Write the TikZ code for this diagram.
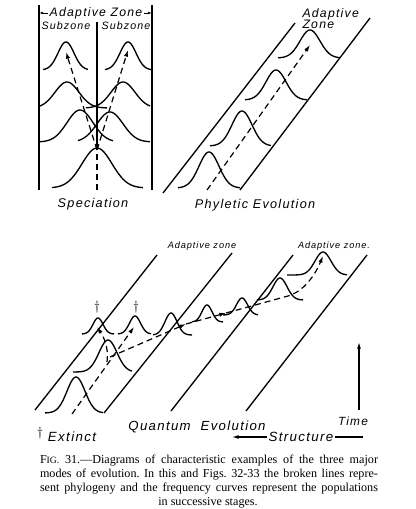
\documentclass[tikz,border=0pt]{standalone}
\usepackage{fontspec}
\setmainfont{Liberation Serif}
\newfontfamily\hand[LetterSpace=10]{Liberation Sans}
\usetikzlibrary{arrows.meta}

\tikzset{every picture/.style={line width=0.75pt}}
\tikzset{
  zone/.style={line width=1pt},
  curve/.style={line width=1pt,smooth},
  phylo/.style={line width=0.9pt,dash pattern={on 4.5pt off 3pt}},
  tip/.style={-{Latex[length=5pt,width=3.2pt]}},
  lbl/.style={inner sep=0.75pt,font=\hand\itshape\fontsize{#1}{#1}\selectfont},
  lbl/.default=9.5,
  capline/.style={inner sep=0pt,font=\fontsize{9.1}{10}\selectfont\frenchspacing},
}
% frequency curve: centre, base, height, spread, from, to
\newcommand{\bell}[6]{\draw[curve,domain=#5:#6,samples=50] plot (\x,{#2-#3*exp(-0.5*((\x-#1)/#4)^2)});}

\begin{document}
\begin{tikzpicture}[x=0.75pt,y=0.75pt,yscale=-1,xscale=1]
\useasboundingbox (0,0) rectangle (416,509);

%%% Speciation
%Straight Lines
\draw [zone] (39,5) coordinate (sl) -- (39,190) ;
\draw [zone] (152,5) coordinate (sr) -- (152,190) ;
\draw [zone] (97,22) -- (97,150) ;
%Shape: Curves
\bell{97}{188}{40}{15}{52}{143}
\bell{80}{142}{32}{13}{40}{113}
\bell{110}{142}{30}{13}{78}{150}
\bell{67}{108}{26}{12}{40}{107}
\bell{123}{108}{26}{12}{86}{150}
\bell{66}{70}{28}{8}{43}{88}
\bell{128}{70}{28}{8}{105}{152}
%Dashed Lines
\coordinate (sroot) at (97,190);
\coordinate (sfork) at (97,150);
\coordinate (sleft) at (66,52);
\coordinate (sright) at (128,50);
\draw [phylo] (sroot) -- (sfork) ;
\draw [phylo,tip] (sfork) -- (sleft) ;
\draw [phylo,tip] (sfork) -- (sright) ;
% Text Node
\node (zonetop) [lbl=9.2] at (96,13) {Adaptive Zone};
\draw [-{Latex[length=3pt,width=2pt]},line width=0.6pt] (zonetop.west) -- (sl |- zonetop) ;
\draw [-{Latex[length=3pt,width=2pt]},line width=0.6pt] (zonetop.east) -- (sr |- zonetop) ;
\node (subl) [lbl=8] at (66,26) {Subzone};
\node (subr) [lbl=8] at (126,26) {Subzone};
\node (spec) [lbl] at (93,204) {Speciation};

%%% Phyletic evolution
%Straight Lines
\draw [zone] (163,193) -- (295,23) ;
\draw [zone] (240,190) -- (370,18) ;
%Shape: Curves
\bell{209}{188}{36}{10}{178}{240}
\bell{242}{146}{35}{10}{210}{271}
\bell{276}{100}{30}{10}{245}{307}
\bell{310}{58}{28}{10}{278}{340}
%Dashed Lines
\coordinate (proot) at (207,190);
\coordinate (ptop) at (310,45);
\draw [phylo,tip] (proot) -- (ptop) ;
% Text Node
\node (pzone) [lbl=9.2,anchor=west,align=left] at (301,19) {Adaptive\\[-1pt]Zone};
\node (phyl) [lbl] at (255,205) {Phyletic Evolution};

%%% Quantum evolution
%Straight Lines
\draw [zone] (35,410) -- (157,255) ;
\draw [zone] (104,413) -- (232,253) ;
\draw [zone] (171,411) -- (293,255) ;
\draw [zone] (246,411) -- (367,255) ;
%Shape: Curves
\bell{76}{413}{36}{9}{45}{103}
\bell{108}{372}{32}{9}{73}{132}
\bell{98}{334}{16}{5}{82}{114}
\bell{135}{334}{18}{5.5}{118}{151}
\bell{171}{335}{22}{6}{153}{192}
\bell{207}{322}{17}{5}{192}{223}
\bell{242}{315}{17}{5.5}{223}{258}
\bell{280}{300}{22}{7}{257}{303}
\bell{323}{275}{23}{8}{287}{347}
%Dashed Lines
\coordinate (qroot) at (72,414);
\coordinate (qfork) at (107,362);
\coordinate (qext1) at (97,327);
\coordinate (qext2) at (134,327);
\coordinate (qa) at (110,357);
\coordinate (qb) at (186,324);
\coordinate (qc) at (226,313);
\coordinate (qd) at (288,296);
\coordinate (qtop) at (323,256);
\draw [phylo,tip] (qroot) -- (qext2) ;
\draw [phylo,tip] (qfork) .. controls (109,346) and (103,336) .. (qext1) ;
\draw [phylo,tip] (qa) -- (qb) ;
\draw [phylo,tip] (qb) -- (qc) ;
\draw [phylo,tip] (qc) -- (qd) .. controls (305,291) and (316,273) .. (qtop) ;
% Text Node
\node (dag1) [inner sep=0pt] at (97,307) {$\dagger$};
\node (dag2) [inner sep=0pt] at (136,307) {$\dagger$};
\node (qzone1) [lbl=6.9] at (202,246) {Adaptive zone};
\node (qzone2) [lbl=6.9] at (334,246) {Adaptive zone.};
\node (quant) [lbl=9.9] at (197,427) {Quantum\ \ Evolution};

%%% Time and structure
\coordinate (tlow) at (359,410);
\coordinate (thigh) at (359,342);
\draw [line width=0.9pt,-{Latex[length=5pt,width=3pt]}] (tlow) -- (thigh) ;
\node (time) [lbl=8.9] at (353,421) {Time};
\node (struct) [lbl=10] at (301,437) {Structure};
\coordinate (sleftend) at (232,437);
\coordinate (srightend) at (363,437);
\draw [line width=0.8pt,-{Latex[length=5pt,width=3pt]}] (struct.west) -- (sleftend) ;
\draw [line width=0.8pt] (struct.east) -- (srightend) ;

%%% Legend
\node (legdag) [inner sep=0pt] at (40,433) {$\dagger$};
\node (legext) [lbl=10] at (72,437) {Extinct};

%%% Caption
\node (cap1) [capline] at (209,461) {\makebox[253.5pt][s]{F{\fontsize{7.2}{8}\selectfont IG.} 31.—Diagrams of characteristic examples of the three major}};
\node (cap2) [capline] at (209,475) {\makebox[253.5pt][s]{modes of evolution. In this and Figs. 32-33 the broken lines repre-}};
\node (cap3) [capline] at (209,489) {\makebox[253.5pt][s]{sent phylogeny and the frequency curves represent the populations}};
\node (cap4) [capline] at (208,503) {in successive stages.};

\end{tikzpicture}
\end{document}
